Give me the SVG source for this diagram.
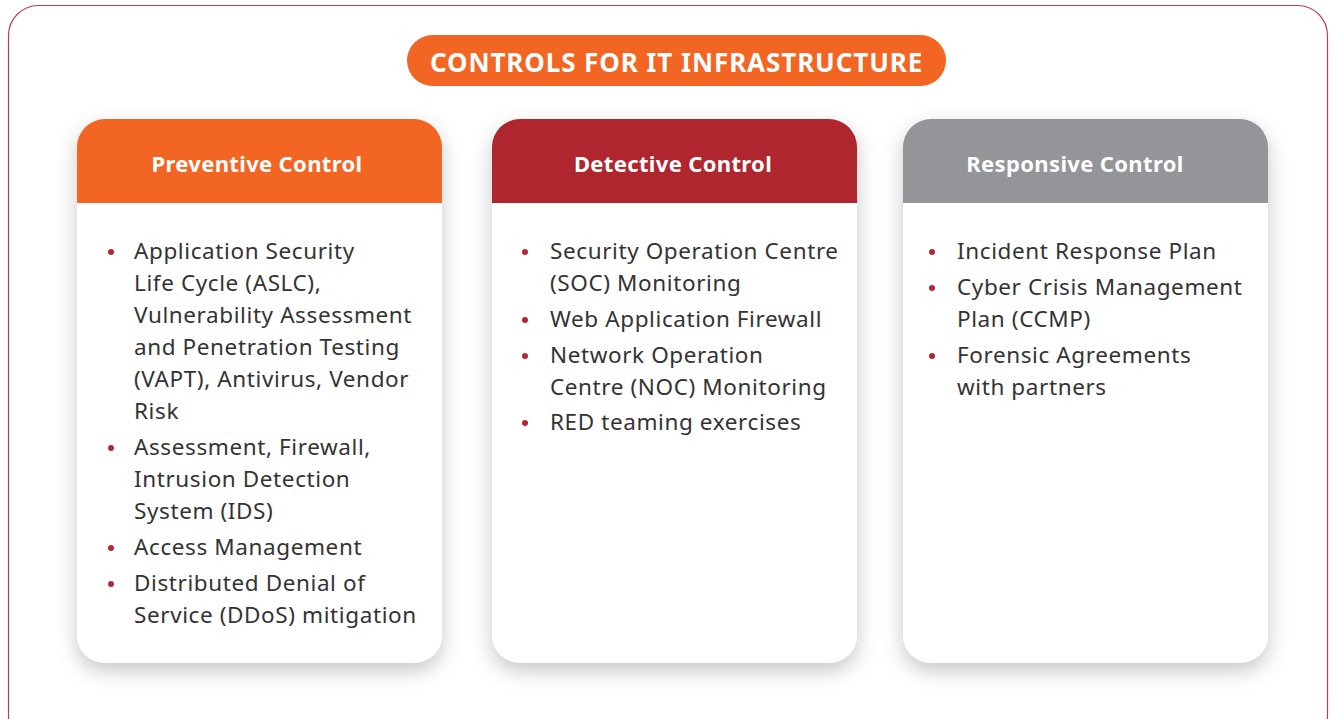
<svg xmlns="http://www.w3.org/2000/svg" width="1333" height="719" viewBox="0 0 1333 719">
<defs>
<filter id="sh" x="-20%" y="-20%" width="140%" height="140%">
<feDropShadow dx="0" dy="8" stdDeviation="10" flood-color="#000" flood-opacity="0.22"/>
</filter>
<clipPath id="c1"><rect x="77" y="119" width="365" height="544" rx="28"/></clipPath>
<clipPath id="c2"><rect x="492" y="119" width="365" height="544" rx="28"/></clipPath>
<clipPath id="c3"><rect x="903" y="119" width="365" height="544" rx="28"/></clipPath>
</defs>
<style>
.hd{font-family:"Noto Sans","Liberation Sans",sans-serif;font-weight:700;font-size:22px;letter-spacing:0.35px;fill:#fff;text-anchor:middle}
.tx{font-family:"Noto Sans","Liberation Sans",sans-serif;font-size:22.5px;letter-spacing:0.6px;fill:#333}
.bl{fill:#b5262f}
.card{fill:#fff;filter:url(#sh)}
</style>
<rect width="1333" height="719" fill="#fff"/>
<rect x="8.5" y="5.5" width="1319" height="740" rx="30" fill="none" stroke="#b8404a" stroke-width="1.2"/>
<g id="title">
<rect x="407" y="35" width="539" height="51" rx="25.5" fill="#f26522"/>
<text x="676.5" y="72" font-family="Noto Sans, Liberation Sans, sans-serif" font-weight="700" font-size="26" letter-spacing="0.9" fill="#fff" text-anchor="middle">CONTROLS FOR IT INFRASTRUCTURE</text>
</g>
<g id="preventive">
<rect class="card" x="77" y="119" width="365" height="544" rx="28"/>
<rect x="77" y="119" width="365" height="84" fill="#f26522" clip-path="url(#c1)"/>
<text class="hd" x="257" y="172">Preventive Control</text>
<g class="bl"><circle cx="111" cy="252" r="3"/><circle cx="111" cy="448" r="3"/><circle cx="111" cy="548" r="3"/><circle cx="111" cy="584" r="3"/></g>
<text class="tx" x="134">
<tspan x="134" y="259">Application Security</tspan>
<tspan x="134" y="291">Life Cycle (ASLC),</tspan>
<tspan x="134" y="323">Vulnerability Assessment</tspan>
<tspan x="134" y="355">and Penetration Testing</tspan>
<tspan x="134" y="387">(VAPT), Antivirus, Vendor</tspan>
<tspan x="134" y="419">Risk</tspan>
<tspan x="134" y="455">Assessment, Firewall,</tspan>
<tspan x="134" y="487">Intrusion Detection</tspan>
<tspan x="134" y="519">System (IDS)</tspan>
<tspan x="134" y="555">Access Management</tspan>
<tspan x="134" y="591">Distributed Denial of</tspan>
<tspan x="134" y="623">Service (DDoS) mitigation</tspan>
</text>
</g>
<g id="detective">
<rect class="card" x="492" y="119" width="365" height="544" rx="28"/>
<rect x="492" y="119" width="365" height="84" fill="#b0262f" clip-path="url(#c2)"/>
<text class="hd" x="673" y="172">Detective Control</text>
<g class="bl"><circle cx="525" cy="252" r="3"/><circle cx="525" cy="320" r="3"/><circle cx="525" cy="356" r="3"/><circle cx="525" cy="423" r="3"/></g>
<text class="tx">
<tspan x="550" y="259">Security Operation Centre</tspan>
<tspan x="550" y="291">(SOC) Monitoring</tspan>
<tspan x="550" y="327">Web Application Firewall</tspan>
<tspan x="550" y="363">Network Operation</tspan>
<tspan x="550" y="395">Centre (NOC) Monitoring</tspan>
<tspan x="550" y="430">RED teaming exercises</tspan>
</text>
</g>
<g id="responsive">
<rect class="card" x="903" y="119" width="365" height="544" rx="28"/>
<rect x="903" y="119" width="365" height="84" fill="#939598" clip-path="url(#c3)"/>
<text class="hd" x="1075" y="172">Responsive Control</text>
<g class="bl"><circle cx="932" cy="252" r="3"/><circle cx="932" cy="288" r="3"/><circle cx="932" cy="356" r="3"/></g>
<text class="tx">
<tspan x="957" y="259">Incident Response Plan</tspan>
<tspan x="957" y="295">Cyber Crisis Management</tspan>
<tspan x="957" y="327">Plan (CCMP)</tspan>
<tspan x="957" y="363">Forensic Agreements</tspan>
<tspan x="957" y="395">with partners</tspan>
</text>
</g>
<g id="connectors"/>
</svg>
